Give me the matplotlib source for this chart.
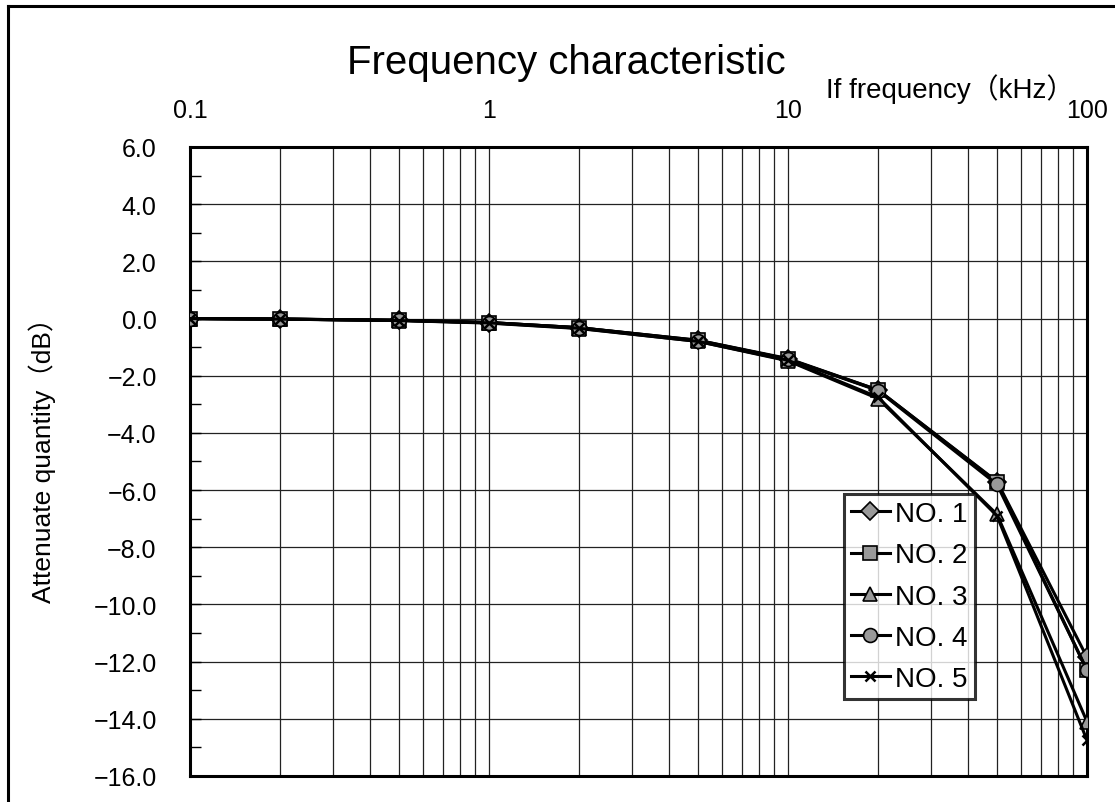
import matplotlib
matplotlib.use("Agg")
import matplotlib.pyplot as plt
from matplotlib.ticker import FixedLocator, LogLocator, NullFormatter
from matplotlib.lines import Line2D

plt.rcParams['font.family'] = ['Liberation Sans', 'Noto Sans CJK JP', 'DejaVu Sans']

freq = [0.1, 0.2, 0.5, 1, 2, 5, 10, 20, 50, 100]
no1 = [0, -0.02, -0.06, -0.14, -0.32, -0.76, -1.40, -2.50, -5.70, -11.85]
no2 = [0, -0.02, -0.06, -0.14, -0.32, -0.76, -1.42, -2.50, -5.72, -12.30]
no3 = [0, -0.02, -0.07, -0.16, -0.35, -0.80, -1.48, -2.80, -6.85, -14.10]
no4 = [0, -0.02, -0.06, -0.14, -0.32, -0.78, -1.42, -2.52, -5.80, -12.30]
no5 = [0, -0.02, -0.07, -0.15, -0.34, -0.80, -1.46, -2.75, -6.90, -14.75]
series = [("NO. 1", no1, 'D'), ("NO. 2", no2, 's'), ("NO. 3", no3, '^'),
          ("NO. 4", no4, 'o'), ("NO. 5", no5, 'x')]
x_ticks = [0.1, 1, 10, 100]
x_tick_labels = ["0.1", "1", "10", "100"]
y_ticks = [6, 4, 2, 0, -2, -4, -6, -8, -10, -12, -14, -16]

fig = plt.figure(figsize=(11.15, 8.03), dpi=100)
ax = fig.add_axes([0.1704, 0.0324, 0.9749 - 0.1704, 0.8157 - 0.0324])
ax.set_xscale('log')
ax.set_xlim(0.1, 100)
ax.set_ylim(-16, 6)

for name, vals, mk in series:
    if mk == 'x':
        ax.plot(freq, vals, color='black', lw=2.2, marker='x', ms=7, mew=1.8,
                mec='black', label=name, zorder=3)
    else:
        ms = 10 if mk != 'D' else 9
        ax.plot(freq, vals, color='black', lw=2.2, marker=mk, ms=ms, mfc='#999999',
                mec='black', mew=1.2, label=name, zorder=3)

ax.xaxis.set_major_locator(FixedLocator(x_ticks))
ax.xaxis.set_minor_locator(LogLocator(base=10, subs=range(2, 10)))
ax.xaxis.set_minor_formatter(NullFormatter())
ax.set_yticks(y_ticks)
ax.set_yticklabels([f"{v:.1f}".replace('-', '\u2212') for v in y_ticks])
ax.yaxis.set_minor_locator(FixedLocator(range(-15, 6, 2)))
ax.grid(which='major', axis='both', color='#222222', lw=0.9)
ax.grid(which='minor', axis='x', color='#222222', lw=0.9)

ax.xaxis.tick_top()
ax.set_xticklabels(x_tick_labels)
ax.tick_params(axis='x', which='both', length=0, labelsize=18, pad=18)
ax.tick_params(axis='y', which='major', direction='in', length=8, width=1.0, labelsize=18, pad=24)
ax.tick_params(axis='y', which='minor', direction='in', length=8, width=1.0)
for sp in ax.spines.values():
    sp.set_linewidth(2.2)
    sp.set_color('black')

leg = ax.legend(loc='upper right', bbox_to_anchor=(0.8747, 0.4483), fontsize=20,
                frameon=True, fancybox=False, handlelength=1.4, handletextpad=0.2,
                borderpad=0.25, labelspacing=0.55, borderaxespad=0)
leg.get_frame().set_edgecolor('black')
leg.get_frame().set_linewidth(2.2)
leg.set_zorder(5)

fig.text(0.508, 0.922, "Frequency characteristic", ha='center', va='center', fontsize=29)
fig.text(0.852, 0.889, "If frequency（kHz）", ha='center', va='center', fontsize=20)
fig.text(0.038, 0.435, "Attenuate quantity（dB）", ha='center', va='center',
         rotation=90, fontsize=19)

fig.add_artist(Line2D([0.0075, 0.0075], [0.0, 0.991], transform=fig.transFigure,
                      color='black', lw=2.2))
fig.add_artist(Line2D([0.0075, 0.998], [0.991, 0.991], transform=fig.transFigure,
                      color='black', lw=2.2))

fig.savefig("out.png", dpi=100)
